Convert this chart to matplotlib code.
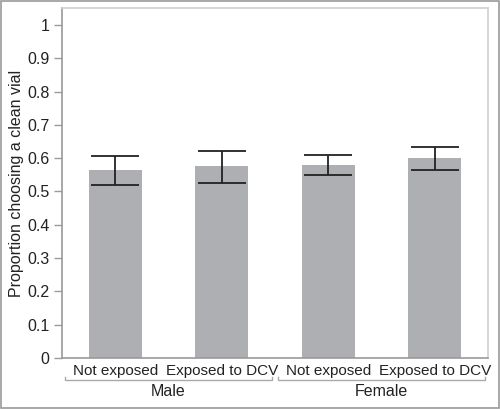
import matplotlib
matplotlib.use("Agg")
import matplotlib.pyplot as plt
from matplotlib.patches import Rectangle
from matplotlib.lines import Line2D

plt.rcParams['font.family'] = ['Liberation Sans', 'DejaVu Sans']

categories = ["Not exposed", "Exposed to DCV", "Not exposed", "Exposed to DCV"]
groups = ["Male", "Female"]
values = [0.565, 0.577, 0.581, 0.601]
err_low = [0.520, 0.527, 0.550, 0.566]
err_high = [0.607, 0.622, 0.610, 0.634]
yticks = [0, 0.1, 0.2, 0.3, 0.4, 0.5, 0.6, 0.7, 0.8, 0.9, 1]
ytick_labels = ["0", "0.1", "0.2", "0.3", "0.4", "0.5", "0.6", "0.7", "0.8", "0.9", "1"]

fig = plt.figure(figsize=(5.0, 4.09), dpi=100)
ax = fig.add_axes([62/500, 1 - 358/409, 426/500, 350/409])

x = list(range(len(values)))
yerr = [[v - l for v, l in zip(values, err_low)], [h - v for v, h in zip(values, err_high)]]
ax.bar(x, values, width=0.5, color="#aeafb2", zorder=2)
ax.errorbar(x, values, yerr=yerr, fmt="none", ecolor="#222222", elinewidth=1.3,
            capsize=17, capthick=1.3, zorder=3)

ax.set_xlim(-0.5, 3.5)
ax.set_ylim(0, 1.051)
ax.set_yticks(yticks)
ax.set_yticklabels(ytick_labels, fontsize=11.5, color="#222222")
ax.set_xticks(x)
ax.set_xticklabels(categories, fontsize=11, color="#222222")
ax.tick_params(axis="x", length=0, pad=4)
ax.tick_params(axis="y", length=6, color="#9a9a9a", width=1, pad=3)
for s in ["left", "bottom"]:
    ax.spines[s].set_color("#9a9a9a")
    ax.spines[s].set_linewidth(1.2)
for s in ["top", "right"]:
    ax.spines[s].set_color("#d0d0d0")
    ax.spines[s].set_linewidth(1.2)
ax.set_ylabel("Proportion choosing a clean vial", fontsize=11.5, color="#222222", labelpad=2)

# group brackets
trans = ax.get_xaxis_transform()
for gi, g in enumerate(groups):
    x0 = gi * 2 - 0.47
    x1 = gi * 2 + 1.47
    yb = -0.063
    ax.add_line(Line2D([x0, x0, x1, x1], [yb + 0.008, yb, yb, yb + 0.008], transform=trans,
                       color="#aaaaaa", lw=1.0, clip_on=False))
    ax.text(gi * 2 + 0.5, yb - 0.01, g, transform=trans, ha="center", va="top",
            fontsize=11.5, color="#222222")

fig.patches.append(Rectangle((0.002, 0.003), 0.996, 0.994, transform=fig.transFigure,
                             fill=False, edgecolor="#9a9a9a", lw=1.2))
fig.savefig("out.png", dpi=100)
